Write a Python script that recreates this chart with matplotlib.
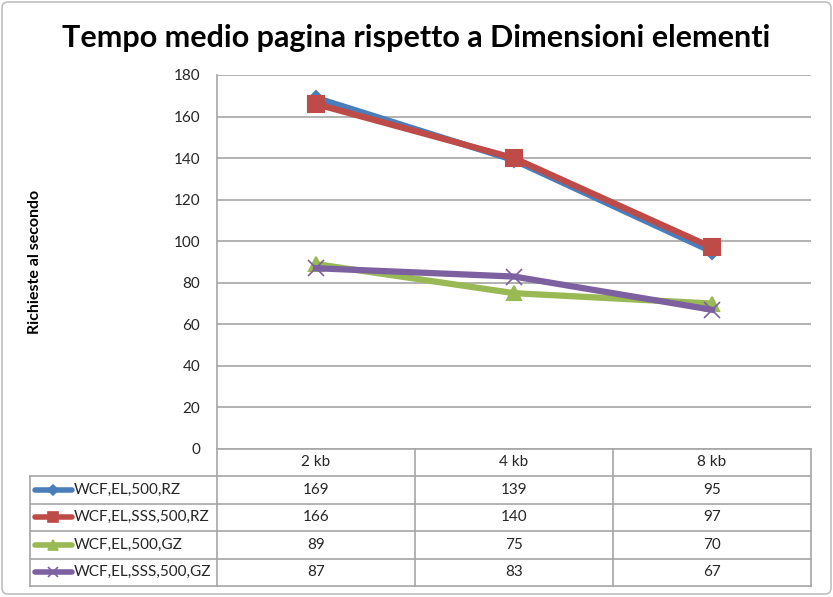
import matplotlib.pyplot as plt
from matplotlib.patches import FancyBboxPatch

plt.rcParams['font.family'] = ['Lato', 'DejaVu Sans']

categories = ["2 kb", "4 kb", "8 kb"]
series_names = ["WCF,EL,500,RZ", "WCF,EL,SSS,500,RZ", "WCF,EL,500,GZ", "WCF,EL,SSS,500,GZ"]
rz_el = [169, 139, 95]
rz_el_sss = [166, 140, 97]
gz_el = [89, 75, 70]
gz_el_sss = [87, 83, 67]
series_values = [rz_el, rz_el_sss, gz_el, gz_el_sss]

colors = ["#4A7EBB", "#BE4B48", "#98B954", "#7D60A0"]
markers = ["D", "s", "^", "x"]
msizes = [7, 11, 10, 11]

W, H = 833, 597
fig = plt.figure(figsize=(W / 100, H / 100), dpi=100)

# plot area in pixels
px_left, px_right, px_top, px_bot = 217, 811, 75, 449
ax = fig.add_axes([px_left / W, 1 - px_bot / H, (px_right - px_left) / W, (px_bot - px_top) / H])

x = list(range(len(categories)))
for vals, c, m, ms in zip(series_values, colors, markers, msizes):
    ax.plot(x, vals, color=c, lw=4.5, marker=m, ms=ms, mew=1.5 if m != "x" else 1.2,
            mfc=c, mec=c, solid_joinstyle="round", zorder=3)

ax.set_xlim(-0.5, len(categories) - 0.5)
ax.set_ylim(0, 180)
ax.set_yticks(range(0, 181, 20))
ax.yaxis.grid(True, color="#a6a6a6", lw=1.2)
ax.set_axisbelow(True)
ax.set_xticks([])
ax.tick_params(axis="y", length=0, pad=12, labelsize=11, labelcolor="#262626")
for s in ["top", "right", "bottom"]:
    ax.spines[s].set_visible(False)
ax.spines["left"].set_color("#a6a6a6")
ax.spines["left"].set_linewidth(1.2)

fig.text(0.5, 1 - 38 / H, "Tempo medio pagina rispetto a Dimensioni elementi",
         ha="center", va="center", fontsize=22, fontweight="bold")
fig.text(35 / W, 1 - 262 / H, "Richieste al secondo", rotation=90,
         ha="center", va="center", fontsize=11.5, fontweight="bold")

# data table in pixel coordinates
tab = fig.add_axes([0, 0, 1, 1], zorder=5)
tab.set_xlim(0, W)
tab.set_ylim(H, 0)
tab.axis("off")
tab.patch.set_alpha(0)

gc = "#a6a6a6"
row_edges = [449, 476, 503.5, 531, 558.5, 586]
col_edges = [px_left, 415, 613, px_right]
leg_left = 30

tab.plot([px_left, px_right], [row_edges[0]] * 2, color=gc, lw=1.2)
for r in row_edges[1:]:
    tab.plot([leg_left, px_right], [r, r], color=gc, lw=1.2)
for cx in col_edges:
    tab.plot([cx, cx], [row_edges[0], row_edges[-1]], color=gc, lw=1.2)
tab.plot([leg_left, leg_left], [row_edges[1], row_edges[-1]], color=gc, lw=1.2)

for j, cat in enumerate(categories):
    cxm = (col_edges[j] + col_edges[j + 1]) / 2
    tab.text(cxm, (row_edges[0] + row_edges[1]) / 2, cat, ha="center", va="center",
             fontsize=11, color="#262626")

for i, (name, vals, c, m) in enumerate(zip(series_names, series_values, colors, markers)):
    yc = (row_edges[i + 1] + row_edges[i + 2]) / 2
    tab.plot([35, 72], [yc, yc], color=c, lw=4, solid_capstyle="round")
    tab.plot([53], [yc], marker=m, color=c, ms=7 if m != "D" else 5, mew=1.2)
    tab.text(74, yc, name, ha="left", va="center", fontsize=11, color="#262626")
    for j, v in enumerate(vals):
        cxm = (col_edges[j] + col_edges[j + 1]) / 2
        tab.text(cxm, yc, str(v), ha="center", va="center", fontsize=11, color="#262626")

# chart border
tab.add_patch(FancyBboxPatch((2, 2), W - 4, H - 5, boxstyle="round,pad=0,rounding_size=6",
                             fill=False, ec="#bfbfbf", lw=1.2))

fig.savefig("out.png", dpi=100)
